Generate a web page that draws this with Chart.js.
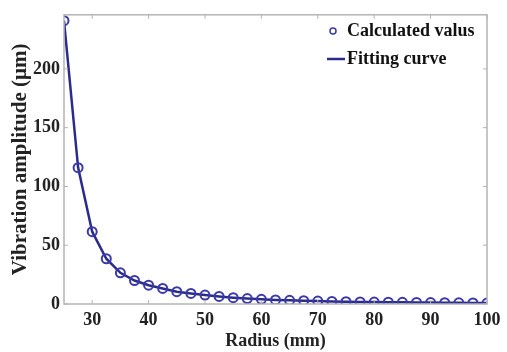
<!DOCTYPE html>
<html lang="en">
<head>
    <meta charset="UTF-8">
    <title>Vibration amplitude vs radius</title>
    <script src="https://cdn.jsdelivr.net/npm/chart.js@4"></script>
    <style>
        html, body { margin: 0; padding: 0; background: #fff; }
        #wrap { width: 507px; height: 352px; }
    </style>
</head>
<body>
    <div id="wrap"><canvas id="ampChart"></canvas></div>

    <script>
        // data
        const radius = [25, 27.5, 30, 32.5, 35, 37.5, 40, 42.5, 45, 47.5, 50, 52.5, 55, 57.5, 60, 62.5,
                        65, 67.5, 70, 72.5, 75, 77.5, 80, 82.5, 85, 87.5, 90, 92.5, 95, 97.5, 100];
        const calculated = [241, 116, 61.5, 38.5, 26.5, 20, 16, 13.2, 10.5, 9, 7.6, 6.4, 5.4, 4.6, 4.0, 3.5,
                            3.1, 2.8, 2.5, 2.2, 2.0, 1.8, 1.6, 1.5, 1.4, 1.3, 1.2, 1.1, 1.0, 0.9, 0.8];
        const fitted = [241, 116, 61.5, 38.5, 26.5, 20, 16, 13.2, 10.5, 9, 7.6, 6.4, 5.4, 4.6, 4.0, 3.5,
                        3.1, 2.8, 2.5, 2.2, 2.0, 1.8, 1.6, 1.5, 1.4, 1.3, 1.2, 1.1, 1.0, 0.9, 0.8];
        const xTicks = [30, 40, 50, 60, 70, 80, 90, 100];
        const yTicks = [0, 50, 100, 150, 200];

        const serif = '"Liberation Serif", "Times New Roman", serif';
        const boxColor = '#b4b4b4';

        // matlab style box, inward ticks and legend
        const matlabBox = {
            id: 'matlabBox',
            afterDraw(chart) {
                const ctx = chart.ctx;
                const a = chart.chartArea;
                const xs = chart.scales.x, ys = chart.scales.y;
                ctx.save();
                ctx.strokeStyle = boxColor;
                ctx.lineWidth = 1.5;
                ctx.strokeRect(a.left, a.top, a.right - a.left, a.bottom - a.top);
                ctx.lineWidth = 1;
                xTicks.forEach(v => {
                    const px = xs.getPixelForValue(v);
                    ctx.beginPath();
                    ctx.moveTo(px, a.bottom); ctx.lineTo(px, a.bottom - 4);
                    ctx.moveTo(px, a.top); ctx.lineTo(px, a.top + 4);
                    ctx.stroke();
                });
                yTicks.forEach(v => {
                    const py = ys.getPixelForValue(v);
                    ctx.beginPath();
                    ctx.moveTo(a.left, py); ctx.lineTo(a.left + 4, py);
                    ctx.moveTo(a.right, py); ctx.lineTo(a.right - 4, py);
                    ctx.stroke();
                });

                // legend
                const ds = chart.data.datasets;
                ctx.font = 'bold 18px ' + serif;
                ctx.fillStyle = '#111';
                ctx.textBaseline = 'middle';
                ctx.textAlign = 'left';
                const lx = 327, ty = 31, ty2 = 59;
                ctx.strokeStyle = '#3a3aa8';
                ctx.lineWidth = 1.5;
                ctx.beginPath();
                ctx.arc(lx + 6, ty, 3, 0, Math.PI * 2);
                ctx.stroke();
                ctx.fillText(ds[0].label, lx + 20, ty);
                ctx.strokeStyle = '#2b2b8c';
                ctx.lineWidth = 2.5;
                ctx.beginPath();
                ctx.moveTo(lx, ty2); ctx.lineTo(lx + 18, ty2);
                ctx.stroke();
                ctx.fillText(ds[1].label, lx + 20, ty2);
                ctx.restore();
            }
        };

        new Chart(document.getElementById('ampChart').getContext('2d'), {
            type: 'scatter',
            data: {
                datasets: [
                    {
                        label: 'Calculated valus',
                        data: radius.map((r, i) => ({ x: r, y: calculated[i] })),
                        showLine: false,
                        pointStyle: 'circle',
                        pointRadius: 4.5,
                        pointBorderWidth: 2,
                        pointBorderColor: '#3a3aa8',
                        pointBackgroundColor: 'rgba(0,0,0,0)',
                        order: 0
                    },
                    {
                        label: 'Fitting curve',
                        data: radius.map((r, i) => ({ x: r, y: fitted[i] })),
                        showLine: true,
                        borderColor: '#2b2b8c',
                        borderWidth: 2.5,
                        pointRadius: 0,
                        tension: 0,
                        order: 1
                    }
                ]
            },
            options: {
                responsive: true,
                maintainAspectRatio: false,
                animation: false,
                layout: { padding: { left: 0, right: 20, top: 11, bottom: 0 } },
                plugins: { legend: { display: false }, tooltip: { enabled: false } },
                scales: {
                    x: {
                        type: 'linear',
                        min: 25,
                        max: 100,
                        afterBuildTicks: s => { s.ticks = xTicks.map(v => ({ value: v })); },
                        afterFit: s => { s.height = 48; },
                        grid: { display: false, drawTicks: false },
                        border: { display: false },
                        ticks: {
                            color: '#222',
                            font: { family: serif, size: 18, weight: 'bold' },
                            padding: 6,
                            maxRotation: 0
                        },
                        title: {
                            display: true,
                            text: 'Radius (mm)',
                            color: '#222',
                            font: { family: serif, size: 18, weight: 'bold' },
                            padding: { top: 0, bottom: 0 }
                        }
                    },
                    y: {
                        min: 0,
                        max: 246,
                        afterBuildTicks: s => { s.ticks = yTicks.map(v => ({ value: v })); },
                        afterFit: s => { s.width = 64; },
                        grid: { display: false, drawTicks: false },
                        border: { display: false },
                        ticks: {
                            color: '#222',
                            font: { family: serif, size: 18, weight: 'bold' },
                            padding: 4
                        },
                        title: {
                            display: true,
                            text: 'Vibration amplitude (μm)',
                            color: '#222',
                            font: { family: serif, size: 21, weight: 'bold' },
                            padding: { top: 8, bottom: 0 }
                        }
                    }
                }
            },
            plugins: [matlabBox]
        });
    </script>
</body>
</html>
